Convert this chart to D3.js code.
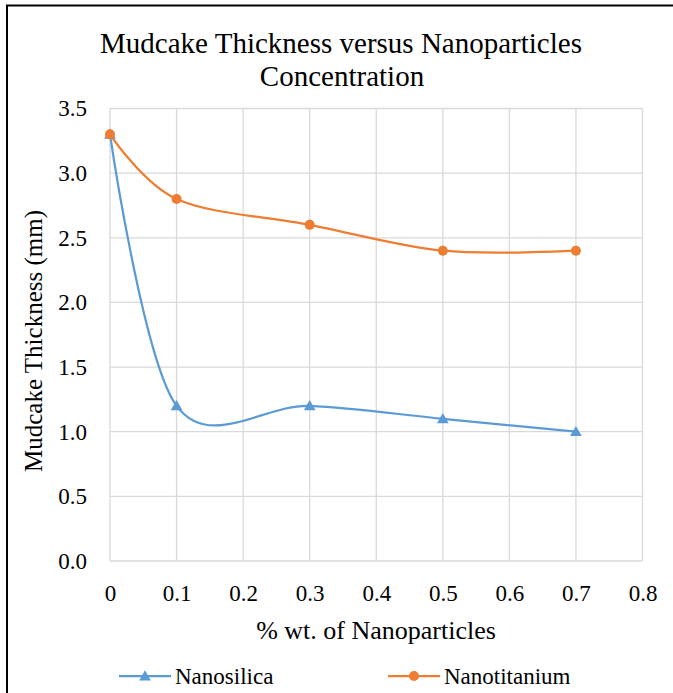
<!DOCTYPE html>
<html>
<head>
<meta charset="utf-8">
<script src="https://cdn.jsdelivr.net/npm/d3@7"></script>
<style>
  body { margin: 0; background: #fff; }
  svg text { font-family: "Liberation Serif", "Times New Roman", Times, serif; fill: #000; }
</style>
</head>
<body>
<script>
// chart values
var xValues = [0, 0.1, 0.3, 0.5, 0.7];
var nanosilica = [3.3, 1.2, 1.2, 1.1, 1.0];
var nanotitanium = [3.3, 2.8, 2.6, 2.4, 2.4];
var xTicks = [0, 0.1, 0.2, 0.3, 0.4, 0.5, 0.6, 0.7, 0.8];
var yTicks = [0, 0.5, 1, 1.5, 2, 2.5, 3, 3.5];
var seriesNames = ['Nanosilica', 'Nanotitanium'];

var w = 673, h = 693;
var pLeft = 110, pRight = 642.5, pTop = 108.5, pBottom = 561;
var serif = '"Liberation Serif", "Times New Roman", Times, serif';

var svg = d3.select('body').append('svg')
    .attr('width', w)
    .attr('height', h)
    .attr('font-family', serif);

// outer frame (only top and left edges visible)
svg.append('line').attr('x1', 6).attr('y1', 5.5).attr('x2', w).attr('y2', 5.5)
    .attr('stroke', '#000').attr('stroke-width', 2);
svg.append('line').attr('x1', 7).attr('y1', 5).attr('x2', 7).attr('y2', h)
    .attr('stroke', '#000').attr('stroke-width', 2);

var x = d3.scaleLinear().domain([0, 0.8]).range([pLeft, pRight]);
var y = d3.scaleLinear().domain([0, 3.5]).range([pBottom, pTop]);

// grid
svg.append('g').selectAll('line')
    .data(xTicks).enter().append('line')
    .attr('x1', function(d) { return x(d); })
    .attr('x2', function(d) { return x(d); })
    .attr('y1', pTop).attr('y2', pBottom)
    .attr('stroke', '#d9d9d9').attr('stroke-width', 1.3);
svg.append('g').selectAll('line')
    .data(yTicks).enter().append('line')
    .attr('x1', pLeft).attr('x2', pRight)
    .attr('y1', function(d) { return y(d); })
    .attr('y2', function(d) { return y(d); })
    .attr('stroke', '#d9d9d9').attr('stroke-width', 1.3);

// tick labels from d3 axes, axis lines removed
var xAxis = svg.append('g')
    .attr('transform', 'translate(0,' + pBottom + ')')
    .call(d3.axisBottom(x).tickValues(xTicks).tickSize(0).tickPadding(24)
        .tickFormat(function(d) { return d === 0 ? '0' : d3.format('.1f')(d); }));
var yAxis = svg.append('g')
    .attr('transform', 'translate(' + pLeft + ',0)')
    .call(d3.axisLeft(y).tickValues(yTicks).tickSize(0).tickPadding(23)
        .tickFormat(d3.format('.1f')));
[xAxis, yAxis].forEach(function(a) {
    a.attr('font-family', serif).attr('font-size', 23);
    a.select('.domain').remove();
    a.selectAll('text').attr('fill', '#000');
});
xAxis.selectAll('text').attr('dy', '0.71em');
yAxis.selectAll('text').attr('dy', '0.32em');

// titles
svg.append('text').attr('x', 341).attr('y', 53)
    .attr('text-anchor', 'middle').attr('font-size', 29)
    .text('Mudcake Thickness versus Nanoparticles');
svg.append('text').attr('x', 342).attr('y', 86)
    .attr('text-anchor', 'middle').attr('font-size', 29)
    .text('Concentration');
svg.append('text').attr('x', 376).attr('y', 639)
    .attr('text-anchor', 'middle').attr('font-size', 26)
    .text('% wt. of Nanoparticles');
svg.append('text')
    .attr('transform', 'translate(42,' + 341 + ') rotate(-90)')
    .attr('text-anchor', 'middle').attr('font-size', 25)
    .text('Mudcake Thickness (mm)');

var line = d3.line()
    .x(function(d) { return x(d[0]); })
    .y(function(d) { return y(d[1]); })
    .curve(d3.curveCardinal.tension(0));

var colors = ['#5b9bd5', '#ed7d31'];
var allSeries = [nanosilica, nanotitanium];
var tri = d3.symbol().type(d3.symbolTriangle).size(60);

allSeries.forEach(function(vals, i) {
    var pts = xValues.map(function(v, k) { return [v, vals[k]]; });
    svg.append('path')
        .attr('d', line(pts))
        .attr('fill', 'none')
        .attr('stroke', colors[i])
        .attr('stroke-width', 2.25);
});

allSeries.forEach(function(vals, i) {
    var pts = xValues.map(function(v, k) { return [v, vals[k]]; });
    var g = svg.append('g');
    if (i === 0) {
        g.selectAll('path').data(pts).enter().append('path')
            .attr('d', tri)
            .attr('transform', function(d) { return 'translate(' + x(d[0]) + ',' + (y(d[1]) + 1) + ')'; })
            .attr('fill', colors[i]);
    } else {
        g.selectAll('circle').data(pts).enter().append('circle')
            .attr('cx', function(d) { return x(d[0]); })
            .attr('cy', function(d) { return y(d[1]); })
            .attr('r', 5)
            .attr('fill', colors[i]);
    }
});

// legend
var legendX = [119, 388];
seriesNames.forEach(function(name, i) {
    var lx = legendX[i], ly = 676;
    svg.append('line').attr('x1', lx).attr('x2', lx + 52)
        .attr('y1', ly).attr('y2', ly)
        .attr('stroke', colors[i]).attr('stroke-width', 2.25);
    if (i === 0) {
        svg.append('path').attr('d', tri)
            .attr('transform', 'translate(' + (lx + 26) + ',' + (ly + 1) + ')')
            .attr('fill', colors[i]);
    } else {
        svg.append('circle').attr('cx', lx + 26).attr('cy', ly).attr('r', 5)
            .attr('fill', colors[i]);
    }
    svg.append('text').attr('x', lx + 56).attr('y', ly + 8)
        .attr('font-size', 23)
        .text(name);
});
</script>
</body>
</html>
